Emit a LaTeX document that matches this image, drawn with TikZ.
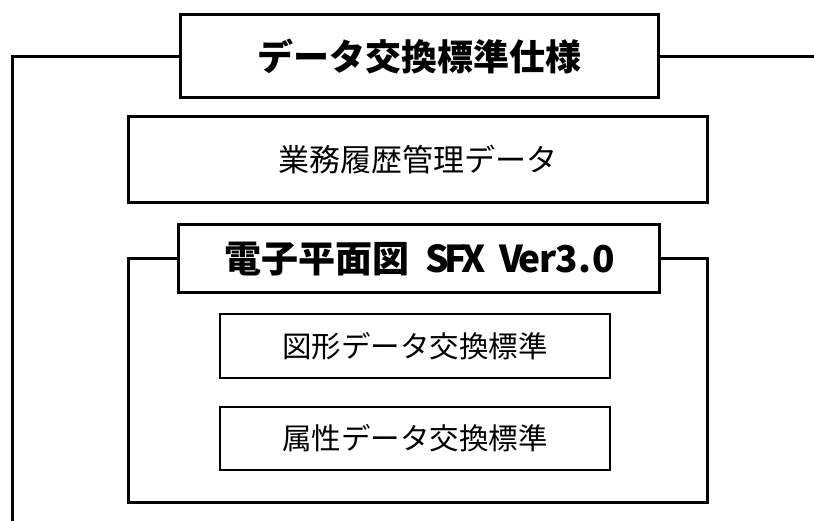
\documentclass[tikz,border=0pt]{standalone}
\usepackage{fontspec}
\newfontfamily\jp{Noto Sans CJK JP}
\newcommand\hw[1]{\makebox[0.5em]{#1}}
\tikzset{
  thickbox/.style={draw=black, line width=3pt, fill=white, rectangle, inner sep=0pt},
  thinbox/.style={draw=black, line width=1.5pt, fill=white, rectangle, inner sep=0pt},
  bracket/.style={draw=black, line width=3pt, line join=miter},
}
\begin{document}
\begin{tikzpicture}[x=1pt,y=-1pt]
\useasboundingbox (0,0) rectangle (814,521);
% outer bracket
\coordinate (oBL) at (12,521);
\coordinate (oTL) at (12,56.5);
\coordinate (oR) at (814,56.5);
\node[thickbox, minimum width=478pt, minimum height=83pt, font={\jp\bfseries\fontsize{36}{40}\selectfont}] (title) at (419,56.5) {データ交換標準仕様};
\draw[bracket] (oBL) -- (oTL) -- (title.west);
\draw[bracket] (title.east) -- (oR);
% gyomu
\node[thickbox, minimum width=579pt, minimum height=86pt, font={\jp\fontsize{31}{34}\selectfont}] (gyomu) at (417.5,160) {業務履歴管理データ};
% SFX
\node[thickbox, minimum width=481pt, minimum height=68pt, font={\jp\bfseries\fontsize{37}{40}\selectfont}] (sfx) at (418.5,259) {電子平面図\hw{ }\hw{S}\hw{F}\hw{X}\hw{ }\hw{V}\hw{e}\hw{r}\hw{3}\hw{.}\hw{0}};
\coordinate (sTL) at (128,259);
\coordinate (sBL) at (128,502);
\coordinate (sBR) at (707,502);
\coordinate (sTR) at (707,259);
\draw[bracket] (sfx.west) -- (sTL) -- (sBL) -- (sBR) -- (sTR) -- (sfx.east);
% inner boxes
\node[thinbox, minimum width=390pt, minimum height=64pt, font={\jp\fontsize{29.5}{32}\selectfont}] (fig) at (415,346) {図形データ交換標準};
\node[thinbox, minimum width=390pt, minimum height=63pt, font={\jp\fontsize{29.5}{32}\selectfont}] (attr) at (415,438.5) {属性データ交換標準};
\end{tikzpicture}
\end{document}
